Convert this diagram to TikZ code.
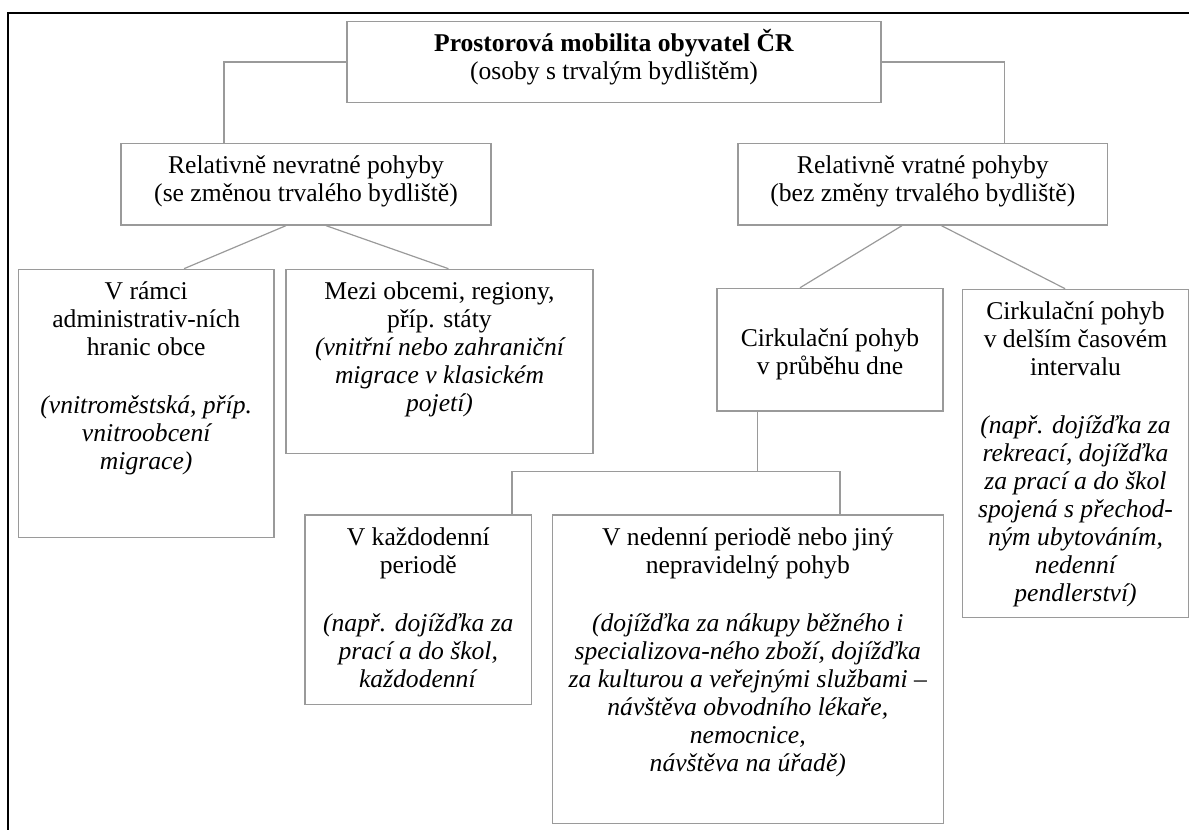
\documentclass[tikz,border=0pt]{standalone}
\usepackage{fontspec}
\setmainfont{Liberation Serif}
\usepackage{xcolor}
\usepackage{tikz}
\usetikzlibrary{positioning, calc}

\definecolor{linegray}{HTML}{9A9A9A}
\newcommand{\boxtext}[3]{\parbox[c][#2][t]{#1}{\centering\rule{0pt}{15pt}#3}}

\begin{document}
\begin{tikzpicture}[
		x=0.5pt, y=-0.5pt,
		font=\fontsize{12.8}{14}\selectfont,
		box/.style={draw=linegray, line width=0.6pt, inner xsep=1pt, inner ysep=0pt},
		link/.style={draw=linegray, line width=0.6pt},
		frame/.style={draw=black, line width=1pt}
		]
		\useasboundingbox (0,0) rectangle (1189,830);
		
		% Page frame
		\draw[frame] (7.7,830) -- (7.7,12.7) -- (1189,12.7);
		
		% Top
		\node[box] (top) at (614,62) {\boxtext{265pt}{40.3pt}{%
			\textbf{Prostorová mobilita obyvatel ČR}\\
			(osoby s trvalým bydlištěm)}};
		
		% Level 2
		\node[box] (nevr) at (306,184.2) {\boxtext{183pt}{40.85pt}{%
			Relativně nevratné pohyby\\
			(se změnou trvalého bydliště)}};
		\node[box] (vrat) at (922.8,184.2) {\boxtext{182.8pt}{40.85pt}{%
			Relativně vratné pohyby\\
			(bez změny trvalého bydliště)}};
		
		% Level 3
		\node[box] (adm) at (146.2,403.3) {\boxtext{125.8pt}{134pt}{%
			V rámci\\
			administrativ-ních\\
			hranic obce\\[15pt]
			\textit{(vnitroměstská, příp.\\
			vnitroobcení\\
			migrace)}}};
		\node[box] (mezi) at (439.5,361.3) {\boxtext{151.5pt}{92pt}{%
			Mezi obcemi, regiony,\\
			příp. státy\\
			\textit{(vnitřní nebo zahraniční\\
			migrace v klasickém\\
			pojetí)}}};
		\node[box] (denni) at (830,349.7) {\boxtext{111pt}{61.35pt}{\\
			Cirkulační pohyb\\
			v průběhu dne}};
		\node[box] (delsi) at (1075.5,453.3) {\boxtext{110.8pt}{164pt}{%
			Cirkulační pohyb\\
			v delším časovém\\
			intervalu\\[15pt]
			\textit{(např. dojížďka za\\
			rekreací, dojížďka\\
			za prací a do škol\\
			spojená s přechod-\\
			ným ubytováním,\\
			nedenní\\
			pendlerství)}}};
		
		% Level 4
		\node[box] (kazdo) at (418.3,609.7) {\boxtext{111.3pt}{94.7pt}{%
			V každodenní\\
			periodě\\[15pt]
			\textit{(např. dojížďka za\\
			prací a do škol,\\
			každodenní}}};
		\node[box] (neden) at (747.8,669.2) {\boxtext{193.5pt}{154.2pt}{%
			V nedenní periodě nebo jiný\\
			nepravidelný pohyb\\[15pt]
			\textit{(dojížďka za nákupy běžného i\\
			specializova-ného zboží, dojížďka\\
			za kulturou a veřejnými službami --\\
			návštěva obvodního lékaře,\\
			nemocnice,\\
			návštěva na úřadě)}}};
		
		% Connectors
		\draw[link] (top.west) -| ([xshift=-41pt]nevr.north);
		\draw[link] (top.east) -| ([xshift=40.8pt]vrat.north);
		\draw[link] ([xshift=-10pt]nevr.south) -- ([xshift=18.9pt]adm.north);
		\draw[link] ([xshift=10pt]nevr.south) -- ([xshift=4.5pt]mezi.north);
		\draw[link] ([xshift=-10.4pt]vrat.south) -- ([xshift=-15pt]denni.north);
		\draw[link] ([xshift=9.3pt]vrat.south) -- ([xshift=-5.2pt]delsi.north);
		
		% Fork below daily movement
		\coordinate (fork) at (757.3,471.7);
		\draw[link] ([xshift=-36.35pt]denni.south) -- (fork);
		\draw[link] ([xshift=46.85pt]kazdo.north) |- (fork) -| ([xshift=46.1pt]neden.north);
		
	\end{tikzpicture}
\end{document}
